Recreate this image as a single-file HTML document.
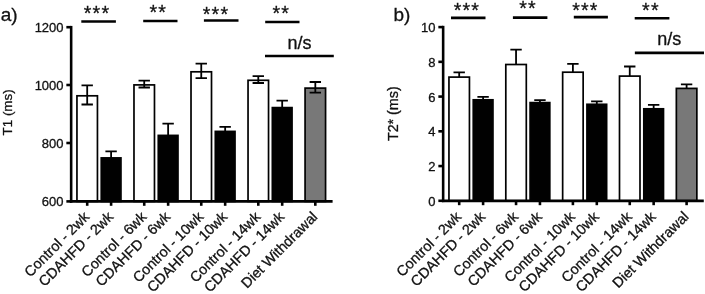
<!DOCTYPE html>
<html><head><meta charset="utf-8"><title>Figure</title>
<style>
html,body{margin:0;padding:0;background:#fff;}
body{width:705px;height:294px;overflow:hidden;font-family:"Liberation Sans",sans-serif;}
svg{display:block;}
</style></head>
<body>
<svg width="705" height="294" viewBox="0 0 705 294">
<rect width="705" height="294" fill="#fff"/>
<g fill="#111" stroke="#111" stroke-width="0.3" opacity="0.999">
<rect x="76.95" y="95.80" width="20.50" height="105.60" fill="#fff" stroke="#000" stroke-width="1.7"/>
<path d="M87.20 85.30V104.50M81.50 85.30H92.90M81.50 104.50H92.90" stroke="#000" stroke-width="1.8" fill="none"/>
<rect x="101.25" y="157.90" width="19.70" height="43.50" fill="#000" stroke="#000" stroke-width="1.7"/>
<path d="M111.10 151.30V157.90M105.40 151.30H116.80" stroke="#000" stroke-width="1.8" fill="none"/>
<rect x="133.98" y="84.90" width="20.50" height="116.50" fill="#fff" stroke="#000" stroke-width="1.7"/>
<path d="M144.23 80.60V87.50M138.53 80.60H149.93M138.53 87.50H149.93" stroke="#000" stroke-width="1.8" fill="none"/>
<rect x="158.28" y="135.40" width="19.70" height="66.00" fill="#000" stroke="#000" stroke-width="1.7"/>
<path d="M168.13 123.70V135.40M162.43 123.70H173.83" stroke="#000" stroke-width="1.8" fill="none"/>
<rect x="191.01" y="71.80" width="20.50" height="129.60" fill="#fff" stroke="#000" stroke-width="1.7"/>
<path d="M201.26 63.60V78.20M195.56 63.60H206.96M195.56 78.20H206.96" stroke="#000" stroke-width="1.8" fill="none"/>
<rect x="215.31" y="131.40" width="19.70" height="70.00" fill="#000" stroke="#000" stroke-width="1.7"/>
<path d="M225.16 126.90V131.40M219.46 126.90H230.86" stroke="#000" stroke-width="1.8" fill="none"/>
<rect x="248.04" y="80.30" width="20.50" height="121.10" fill="#fff" stroke="#000" stroke-width="1.7"/>
<path d="M258.29 76.20V83.00M252.59 76.20H263.99M252.59 83.00H263.99" stroke="#000" stroke-width="1.8" fill="none"/>
<rect x="272.34" y="107.60" width="19.70" height="93.80" fill="#000" stroke="#000" stroke-width="1.7"/>
<path d="M282.19 100.60V107.60M276.49 100.60H287.89" stroke="#000" stroke-width="1.8" fill="none"/>
<rect x="305.07" y="88.10" width="20.50" height="113.30" fill="#787878" stroke="#000" stroke-width="1.7"/>
<path d="M315.32 82.00V92.60M309.62 82.00H321.02M309.62 92.60H321.02" stroke="#000" stroke-width="1.8" fill="none"/>
<path d="M71.15 25.90V202.70" stroke="#000" stroke-width="2.6" fill="none"/>
<path d="M69.85 201.40H332.60" stroke="#000" stroke-width="2.8000000000000003" fill="none"/>
<path d="M66.35 27.20H71.15" stroke="#000" stroke-width="2.6" fill="none"/>
<text x="63.55" y="32.15" font-size="13" text-anchor="end" font-family="Liberation Sans, sans-serif">1200</text>
<path d="M66.35 85.00H71.15" stroke="#000" stroke-width="2.6" fill="none"/>
<text x="63.55" y="89.95" font-size="13" text-anchor="end" font-family="Liberation Sans, sans-serif">1000</text>
<path d="M66.35 143.00H71.15" stroke="#000" stroke-width="2.6" fill="none"/>
<text x="63.55" y="147.95" font-size="13" text-anchor="end" font-family="Liberation Sans, sans-serif">800</text>
<path d="M66.35 201.40H71.15" stroke="#000" stroke-width="2.6" fill="none"/>
<text x="63.55" y="206.35" font-size="13" text-anchor="end" font-family="Liberation Sans, sans-serif">600</text>
<path d="M87.20 201.40V205.80" stroke="#000" stroke-width="2.6" fill="none"/>
<text transform="translate(90.20 217.70) rotate(-45)" font-size="14.4" text-anchor="end" font-family="Liberation Sans, sans-serif">Control - 2wk</text>
<path d="M111.10 201.40V205.80" stroke="#000" stroke-width="2.6" fill="none"/>
<text transform="translate(114.10 217.70) rotate(-45)" font-size="14.4" text-anchor="end" font-family="Liberation Sans, sans-serif">CDAHFD - 2wk</text>
<path d="M144.23 201.40V205.80" stroke="#000" stroke-width="2.6" fill="none"/>
<text transform="translate(147.23 217.70) rotate(-45)" font-size="14.4" text-anchor="end" font-family="Liberation Sans, sans-serif">Control - 6wk</text>
<path d="M168.13 201.40V205.80" stroke="#000" stroke-width="2.6" fill="none"/>
<text transform="translate(171.13 217.70) rotate(-45)" font-size="14.4" text-anchor="end" font-family="Liberation Sans, sans-serif">CDAHFD - 6wk</text>
<path d="M201.26 201.40V205.80" stroke="#000" stroke-width="2.6" fill="none"/>
<text transform="translate(204.26 217.70) rotate(-45)" font-size="14.4" text-anchor="end" font-family="Liberation Sans, sans-serif">Control - 10wk</text>
<path d="M225.16 201.40V205.80" stroke="#000" stroke-width="2.6" fill="none"/>
<text transform="translate(228.16 217.70) rotate(-45)" font-size="14.4" text-anchor="end" font-family="Liberation Sans, sans-serif">CDAHFD - 10wk</text>
<path d="M258.29 201.40V205.80" stroke="#000" stroke-width="2.6" fill="none"/>
<text transform="translate(261.29 217.70) rotate(-45)" font-size="14.4" text-anchor="end" font-family="Liberation Sans, sans-serif">Control - 14wk</text>
<path d="M282.19 201.40V205.80" stroke="#000" stroke-width="2.6" fill="none"/>
<text transform="translate(285.19 217.70) rotate(-45)" font-size="14.4" text-anchor="end" font-family="Liberation Sans, sans-serif">CDAHFD - 14wk</text>
<path d="M315.32 201.40V205.80" stroke="#000" stroke-width="2.6" fill="none"/>
<text transform="translate(318.32 217.70) rotate(-45)" font-size="14.4" text-anchor="end" font-family="Liberation Sans, sans-serif">Diet Withdrawal</text>
<text transform="translate(12.4 112.4) rotate(-90)" text-anchor="middle" font-size="13.4" font-family="Liberation Sans, sans-serif">T1 (ms)</text>
<path d="M81.30 21.55H115.90" stroke="#000" stroke-width="2.6" fill="none"/>
<path d="M143.20 21.05H177.50" stroke="#000" stroke-width="2.6" fill="none"/>
<path d="M203.90 20.45H238.50" stroke="#000" stroke-width="2.6" fill="none"/>
<path d="M265.20 22.00H299.50" stroke="#000" stroke-width="2.6" fill="none"/>
<path d="M265.00 56.05H333.80" stroke="#000" stroke-width="2.6" fill="none"/>
<text x="97.05" y="19.95" font-size="19.6" letter-spacing="1.2" text-anchor="middle" font-family="Liberation Sans, sans-serif">***</text>
<text x="158.35" y="18.99" font-size="19.6" letter-spacing="1.2" text-anchor="middle" font-family="Liberation Sans, sans-serif">**</text>
<text x="216.00" y="20.89" font-size="19.6" letter-spacing="1.2" text-anchor="middle" font-family="Liberation Sans, sans-serif">***</text>
<text x="281.35" y="20.14" font-size="19.6" letter-spacing="1.2" text-anchor="middle" font-family="Liberation Sans, sans-serif">**</text>
<text x="299.60" y="48.80" font-size="18" text-anchor="middle" font-family="Liberation Sans, sans-serif">n/s</text>
<text x="0.7" y="21.2" font-size="19" font-family="Liberation Sans, sans-serif">a)</text>
<rect x="448.95" y="77.10" width="20.50" height="123.70" fill="#fff" stroke="#000" stroke-width="1.7"/>
<path d="M459.20 72.40V77.10M453.50 72.40H464.90" stroke="#000" stroke-width="1.8" fill="none"/>
<rect x="473.25" y="99.80" width="19.70" height="101.00" fill="#000" stroke="#000" stroke-width="1.7"/>
<path d="M483.10 96.90V99.80M477.40 96.90H488.80" stroke="#000" stroke-width="1.8" fill="none"/>
<rect x="505.80" y="64.50" width="20.50" height="136.30" fill="#fff" stroke="#000" stroke-width="1.7"/>
<path d="M516.05 49.70V64.50M510.35 49.70H521.75" stroke="#000" stroke-width="1.8" fill="none"/>
<rect x="530.10" y="102.60" width="19.70" height="98.20" fill="#000" stroke="#000" stroke-width="1.7"/>
<path d="M539.95 100.10V102.60M534.25 100.10H545.65" stroke="#000" stroke-width="1.8" fill="none"/>
<rect x="562.65" y="72.20" width="20.50" height="128.60" fill="#fff" stroke="#000" stroke-width="1.7"/>
<path d="M572.90 63.90V72.20M567.20 63.90H578.60" stroke="#000" stroke-width="1.8" fill="none"/>
<rect x="586.95" y="104.30" width="19.70" height="96.50" fill="#000" stroke="#000" stroke-width="1.7"/>
<path d="M596.80 101.30V104.30M591.10 101.30H602.50" stroke="#000" stroke-width="1.8" fill="none"/>
<rect x="619.50" y="76.10" width="20.50" height="124.70" fill="#fff" stroke="#000" stroke-width="1.7"/>
<path d="M629.75 66.50V76.10M624.05 66.50H635.45" stroke="#000" stroke-width="1.8" fill="none"/>
<rect x="643.80" y="108.80" width="19.70" height="92.00" fill="#000" stroke="#000" stroke-width="1.7"/>
<path d="M653.65 104.80V108.80M647.95 104.80H659.35" stroke="#000" stroke-width="1.8" fill="none"/>
<rect x="676.35" y="88.40" width="20.50" height="112.40" fill="#787878" stroke="#000" stroke-width="1.7"/>
<path d="M686.60 84.30V88.40M680.90 84.30H692.30" stroke="#000" stroke-width="1.8" fill="none"/>
<path d="M443.15 25.80V202.10" stroke="#000" stroke-width="2.6" fill="none"/>
<path d="M441.85 200.80H703.80" stroke="#000" stroke-width="2.8000000000000003" fill="none"/>
<path d="M438.35 27.10H443.15" stroke="#000" stroke-width="2.6" fill="none"/>
<text x="435.55" y="32.05" font-size="13" text-anchor="end" font-family="Liberation Sans, sans-serif">10</text>
<path d="M438.35 61.84H443.15" stroke="#000" stroke-width="2.6" fill="none"/>
<text x="435.55" y="66.79" font-size="13" text-anchor="end" font-family="Liberation Sans, sans-serif">8</text>
<path d="M438.35 96.58H443.15" stroke="#000" stroke-width="2.6" fill="none"/>
<text x="435.55" y="101.53" font-size="13" text-anchor="end" font-family="Liberation Sans, sans-serif">6</text>
<path d="M438.35 131.32H443.15" stroke="#000" stroke-width="2.6" fill="none"/>
<text x="435.55" y="136.27" font-size="13" text-anchor="end" font-family="Liberation Sans, sans-serif">4</text>
<path d="M438.35 166.06H443.15" stroke="#000" stroke-width="2.6" fill="none"/>
<text x="435.55" y="171.01" font-size="13" text-anchor="end" font-family="Liberation Sans, sans-serif">2</text>
<path d="M438.35 200.80H443.15" stroke="#000" stroke-width="2.6" fill="none"/>
<text x="435.55" y="205.75" font-size="13" text-anchor="end" font-family="Liberation Sans, sans-serif">0</text>
<path d="M459.20 200.80V205.20" stroke="#000" stroke-width="2.6" fill="none"/>
<text transform="translate(462.20 217.60) rotate(-45)" font-size="14.4" text-anchor="end" font-family="Liberation Sans, sans-serif">Control - 2wk</text>
<path d="M483.10 200.80V205.20" stroke="#000" stroke-width="2.6" fill="none"/>
<text transform="translate(486.10 217.60) rotate(-45)" font-size="14.4" text-anchor="end" font-family="Liberation Sans, sans-serif">CDAHFD - 2wk</text>
<path d="M516.05 200.80V205.20" stroke="#000" stroke-width="2.6" fill="none"/>
<text transform="translate(519.05 217.60) rotate(-45)" font-size="14.4" text-anchor="end" font-family="Liberation Sans, sans-serif">Control - 6wk</text>
<path d="M539.95 200.80V205.20" stroke="#000" stroke-width="2.6" fill="none"/>
<text transform="translate(542.95 217.60) rotate(-45)" font-size="14.4" text-anchor="end" font-family="Liberation Sans, sans-serif">CDAHFD - 6wk</text>
<path d="M572.90 200.80V205.20" stroke="#000" stroke-width="2.6" fill="none"/>
<text transform="translate(575.90 217.60) rotate(-45)" font-size="14.4" text-anchor="end" font-family="Liberation Sans, sans-serif">Control - 10wk</text>
<path d="M596.80 200.80V205.20" stroke="#000" stroke-width="2.6" fill="none"/>
<text transform="translate(599.80 217.60) rotate(-45)" font-size="14.4" text-anchor="end" font-family="Liberation Sans, sans-serif">CDAHFD - 10wk</text>
<path d="M629.75 200.80V205.20" stroke="#000" stroke-width="2.6" fill="none"/>
<text transform="translate(632.75 217.60) rotate(-45)" font-size="14.4" text-anchor="end" font-family="Liberation Sans, sans-serif">Control - 14wk</text>
<path d="M653.65 200.80V205.20" stroke="#000" stroke-width="2.6" fill="none"/>
<text transform="translate(656.65 217.60) rotate(-45)" font-size="14.4" text-anchor="end" font-family="Liberation Sans, sans-serif">CDAHFD - 14wk</text>
<path d="M686.60 200.80V205.20" stroke="#000" stroke-width="2.6" fill="none"/>
<text transform="translate(689.60 217.60) rotate(-45)" font-size="14.4" text-anchor="end" font-family="Liberation Sans, sans-serif">Diet Withdrawal</text>
<text transform="translate(398 113.7) rotate(-90)" text-anchor="middle" font-size="14.3" font-family="Liberation Sans, sans-serif">T2* (ms)</text>
<path d="M451.00 17.85H485.50" stroke="#000" stroke-width="2.6" fill="none"/>
<path d="M512.90 17.60H547.40" stroke="#000" stroke-width="2.6" fill="none"/>
<path d="M573.80 17.15H607.90" stroke="#000" stroke-width="2.6" fill="none"/>
<path d="M634.70 18.25H669.40" stroke="#000" stroke-width="2.6" fill="none"/>
<path d="M634.85 52.90H704.00" stroke="#000" stroke-width="2.6" fill="none"/>
<text x="466.95" y="16.84" font-size="19.6" letter-spacing="1.2" text-anchor="middle" font-family="Liberation Sans, sans-serif">***</text>
<text x="528.00" y="15.39" font-size="19.6" letter-spacing="1.2" text-anchor="middle" font-family="Liberation Sans, sans-serif">**</text>
<text x="585.40" y="17.09" font-size="19.6" letter-spacing="1.2" text-anchor="middle" font-family="Liberation Sans, sans-serif">***</text>
<text x="650.90" y="16.84" font-size="19.6" letter-spacing="1.2" text-anchor="middle" font-family="Liberation Sans, sans-serif">**</text>
<text x="669.30" y="45.00" font-size="18" text-anchor="middle" font-family="Liberation Sans, sans-serif">n/s</text>
<text x="393.4" y="21.3" font-size="19" font-family="Liberation Sans, sans-serif">b)</text>
</g>
</svg>
</body></html>
